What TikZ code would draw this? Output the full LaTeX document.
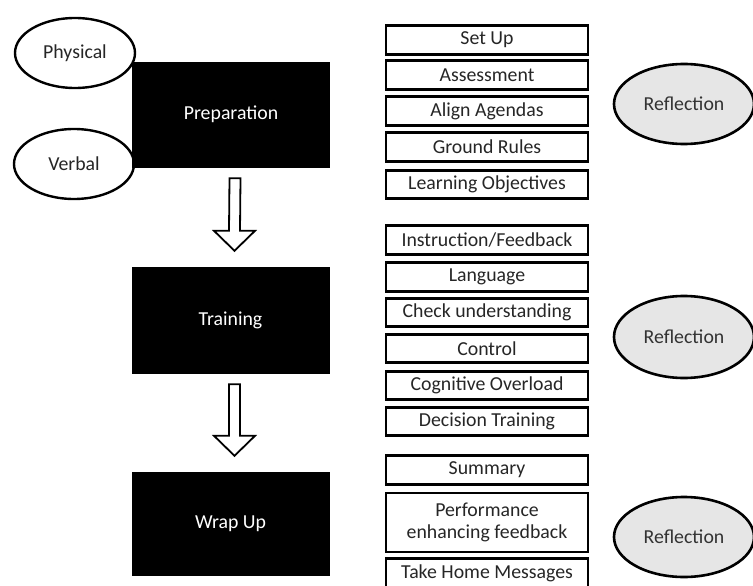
\documentclass[tikz,border=0pt]{standalone}
\usepackage{fontspec}
\setmainfont{Carlito}
\usetikzlibrary{shapes.geometric,calc}
\definecolor{refl}{HTML}{E6E6E6}
\begin{document}
\begin{tikzpicture}[x=1pt,y=-1pt,
  every node/.style={font=\fontsize{19.8}{22.5}\selectfont, inner sep=0pt},
  phase/.style={draw=black, fill=black, text=white, minimum width=197pt, minimum height=105pt},
  item/.style={draw=black, line width=2.6pt, fill=white, minimum width=202pt, minimum height=28.5pt, align=center, text=black!85},
  oval/.style={ellipse, draw=black, line width=2.4pt, fill=white, minimum width=120pt, minimum height=70pt, text=black!85},
  refl/.style={ellipse, draw=black, line width=2.6pt, fill=refl, minimum width=140pt, minimum height=80pt, text=black!80},
  blockarrow/.style={draw=black, line width=1.8pt, fill=white, line join=miter}
]
\useasboundingbox (0,0) rectangle (753,586);
\fill[white] (0,0) rectangle (753,586);

% left ellipses (behind the box)
\node[oval] (phys) at (75,53) {Physical};
\node[oval] (verb) at (74,164) {Verbal};

% phase boxes
\node[phase] (prep) at (231,114.5) {Preparation};
\node[phase, minimum height=106pt] (train) at (230.5,320) {Training};
\node[phase, minimum height=103pt] (wrap) at (230.5,523.5) {Wrap Up};

% block arrows
\foreach \a/\b in {prep/train, train/wrap}{
  \coordinate (s) at ($(\a.south)+(4,11)$);
  \coordinate (t) at ($(\b.north)+(4,-16)$);
  \draw[blockarrow] ($(s)+(-5.5,0)$) -- ($(t)+(-5.5,-20)$) -- ($(t)+(-20.5,-20)$) -- (t)
     -- ($(t)+(20.5,-20)$) -- ($(t)+(5.5,-20)$) -- ($(s)+(5.5,0)$) -- cycle;
}

% preparation items
\node[item] (su) at (487,40) {Set Up};
\node[item] (as) at (487,75) {Assessment};
\node[item] (aa) at (487,111) {Align Agendas};
\node[item] (gr) at (487,147) {Ground Rules};
\node[item] (lo) at (487,184.5) {Learning Objectives};

% training items
\node[item] (if) at (487,240) {Instruction/Feedback};
\node[item] (la) at (487,277) {Language};
\node[item] (cu) at (487,312.5) {Check understanding};
\node[item] (co) at (487,348.5) {Control};
\node[item] (cg) at (487,385.5) {Cognitive Overload};
\node[item] (dt) at (487,421.5) {Decision Training};

% wrap up items
\node[item] (sm) at (487,470) {Summary};
\node[item, minimum height=59pt] (pe) at (487,522.5) {Performance\\enhancing feedback};
\node[item] (th) at (487,573) {Take Home Messages};

% reflection ellipses
\node[refl] (r1) at (684,104) {Reflection};
\node[refl, minimum height=82pt] (r2) at (684,337) {Reflection};
\node[refl] (r3) at (684,537) {Reflection};
\end{tikzpicture}
\end{document}
